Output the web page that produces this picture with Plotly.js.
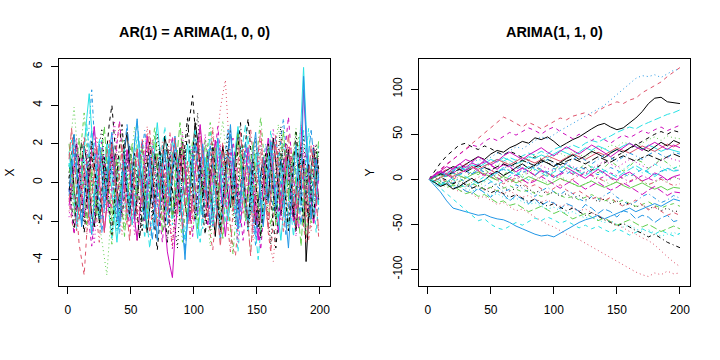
<!DOCTYPE html>
<html>
<head>
<meta charset="utf-8">
<script src="https://cdn.plot.ly/plotly-3.0.1.min.js"></script>
<style>html,body{margin:0;padding:0;background:#fff;}#chart{width:720px;height:360px;}</style>
</head>
<body>
<div id="chart"></div>
<script>
// ---------- DATA ----------
// Left panel: AR(1) series, sampled every 2 time steps (t = 1,3,...,199)
const L1 = [0.5,1.2,-0.3,-1.5,-0.8,0.4,1.9,1.1,-0.2,-1.7,-2.3,-1.1,0.6,1.4,0.2,-0.9,0.8,2.1,1.3,-0.4,-1.2,0.3,1.7,2.6,1.0,-0.6,-1.9,-0.7,0.9,0.1,-1.4,-2.6,-1.3,0.2,1.5,0.7,-0.5,1.1,2.4,1.6,
-0.1,-1.8,-0.9,0.5,1.8,0.4,-1.1,-2.0,-0.3,1.2,3.1,2.2,0.6,-0.8,0.3,1.6,-0.2,-1.6,-2.8,-1.0,
0.7,1.9,0.8,-0.6,-1.3,0.1,1.4,2.7,1.5,-0.1,-1.5,-0.4,0.9,-0.7,-2.2,-1.2,0.4,1.3,0.2,-1.0,
1.1,2.3,1.0,-0.5,-1.7,-0.8,0.6,1.7,0.3,-1.4,-2.5,-1.0,0.5,1.2,-4.1,-1.9,0.7,1.8,0.6,-0.9];
const L2 = [-0.8,-1.9,-2.6,-1.4,-3.2,-3.9,-4.8,-2.7,-0.9,0.6,1.8,0.9,-0.4,-1.6,-0.5,1.0,2.2,1.4,0.1,-1.2,-2.1,-0.8,0.7,1.5,0.4,-0.9,-1.8,-3.0,-1.6,0.2,1.3,2.5,1.1,-0.3,-1.5,-0.6,0.8,1.9,0.5,-1.0,
-2.4,-3.3,-1.7,-0.2,1.1,2.0,0.9,-0.5,-1.9,-0.7,0.6,1.6,2.8,1.2,-0.2,-1.4,-2.7,-3.5,-2.0,-0.4,
1.0,2.1,0.8,-0.7,-2.2,-3.4,-3.8,-2.1,-0.6,0.9,1.7,0.5,-1.1,-2.0,-0.8,0.4,1.6,0.6,-0.9,-2.6,
-3.6,-1.9,-0.3,1.2,2.3,1.0,-0.6,-1.8,-0.5,0.8,2.0,1.1,-0.4,-2.3,-3.1,-1.5,0.3,1.4,-0.7,-2.9];
const L3 = [1.4,2.6,3.9,2.2,0.8,-0.5,-1.6,-0.3,1.1,2.0,0.7,-0.9,-2.1,-3.0,-3.9,-4.8,-2.9,-1.2,0.4,1.5,
0.3,-1.0,-2.3,-1.1,0.5,1.7,2.9,1.6,0.2,-1.3,-0.4,0.9,2.1,1.0,-0.6,-1.9,-0.8,0.6,1.8,0.7,
-0.7,-2.0,-1.0,0.3,1.4,2.5,1.2,-0.1,-1.5,-2.6,-1.3,0.1,1.3,0.4,-0.8,-2.2,-3.3,-1.8,-0.2,1.0,
2.3,3.2,1.8,0.5,-0.9,-2.0,-0.9,0.4,1.6,0.6,-0.8,-2.4,-3.6,-2.1,-0.5,0.8,1.9,0.9,-0.3,-1.7,
-0.6,0.7,2.0,3.0,1.5,0.1,-1.2,-2.5,-1.4,0.0,1.2,2.4,1.1,-0.2,-1.6,-0.7,0.8,1.7,0.5,-1.1];
const L4 = [-0.4,0.9,1.8,0.6,-1.1,-2.0,-0.7,1.2,3.1,4.8,2.4,0.7,-0.8,-1.9,-0.6,0.8,1.9,0.9,-0.5,-1.6,
-2.7,-1.4,0.2,1.5,0.6,-0.8,-2.0,-1.0,0.4,1.6,2.7,1.3,-0.1,-1.4,-2.5,-1.2,0.1,1.0,-0.3,-1.7,
-0.7,0.8,2.1,1.0,-0.4,-1.8,-3.0,-1.7,-0.2,1.1,2.2,1.0,-0.3,-1.6,-0.5,0.9,2.0,0.8,-0.6,-1.9,
-1.0,0.4,1.7,2.8,1.4,0.0,-1.3,-2.4,-1.1,0.3,1.5,0.5,-0.9,-2.2,-3.3,-1.9,-0.4,0.9,2.0,1.1,
-0.2,-1.5,-0.4,1.0,2.2,3.3,1.7,0.3,-1.0,-2.1,-0.9,0.5,1.6,0.6,-0.8,-2.0,-1.0,0.4,1.3,0.2];
const L5 = [1.0,-0.2,-1.5,-2.4,-1.0,0.5,1.7,3.0,1.6,0.2,-1.1,-0.3,1.0,2.2,1.1,-0.4,-1.7,-2.9,-1.5,0.0,
1.3,0.4,-0.9,-2.0,-0.8,0.7,1.9,3.2,1.8,0.3,-1.0,-2.2,-3.4,-2.0,-0.6,0.8,1.8,0.6,-0.7,-1.6,
-0.4,1.1,2.3,1.2,-0.2,-1.4,-0.5,0.8,1.9,0.7,-0.6,-2.0,-3.1,-1.6,0.1,1.4,2.6,1.3,-0.1,-1.3,
-2.3,-1.0,0.5,1.6,0.6,-0.8,-1.9,-0.6,0.9,2.1,3.0,1.5,0.1,-1.2,-2.6,-4.0,-2.3,-0.7,0.6,1.7,
0.7,-0.6,-1.8,-0.7,0.8,2.0,1.0,-0.3,-1.7,-2.8,-1.4,0.2,1.5,2.7,1.2,-0.2,-1.5,-0.5,0.9,1.9];
const L6 = [-1.2,-0.3,0.9,2.0,0.8,-0.6,-1.8,-0.7,0.6,1.8,2.9,1.4,0.0,-1.3,-2.5,-1.2,0.3,1.5,0.5,-0.8,
-2.0,-0.9,0.6,1.7,0.7,-0.7,-1.9,-3.0,-1.6,-0.1,1.2,2.4,1.1,-0.3,-1.5,-0.4,0.9,-0.6,-2.2,-3.6,
-4.3,-4.93,-2.8,-1.0,0.5,1.6,0.6,-0.8,-2.0,-0.9,0.7,1.9,3.0,1.5,0.1,-1.2,-0.2,1.1,2.2,1.0,
-0.4,-1.7,-2.8,-1.4,0.1,1.3,0.3,-1.0,-2.1,-0.8,0.6,1.8,0.8,-0.6,-1.9,-3.0,-1.6,0.0,1.2,2.3,
1.0,-0.3,-1.5,-2.6,-1.2,0.2,1.4,0.5,-0.9,-2.0,-0.7,0.8,2.1,4.8,2.3,0.6,-0.9,-2.1,-0.8,0.4];
const L7 = [0.2,1.3,2.5,1.2,-0.2,-1.5,-2.6,-1.3,0.1,1.4,0.4,-0.9,-2.1,-1.0,0.5,1.8,3.1,4.0,2.2,0.6,
-0.7,-1.8,-0.6,0.8,1.9,0.9,-0.5,-1.7,-2.9,-1.5,0.0,1.2,0.2,-1.1,-2.3,-3.5,-2.0,-0.5,0.9,2.0,
1.0,-0.4,-1.6,-0.5,0.9,2.1,1.2,2.6,3.5,4.5,2.8,1.0,-0.4,-1.6,-2.7,-1.3,0.2,1.4,0.4,-1.0,
-2.2,-1.0,0.4,1.6,2.7,1.3,-0.1,-1.4,-0.3,1.0,2.2,3.3,1.8,0.2,-1.1,-2.3,-1.1,0.3,1.5,0.5,
-0.9,-2.2,-3.4,-1.9,-0.4,0.9,2.0,0.9,-0.5,-1.8,-0.7,0.7,1.8,0.6,-0.8,-2.0,-0.9,0.5,1.6,0.7];
const L8 = [-1.5,-0.6,0.7,1.9,0.8,-0.5,-1.7,-2.8,-1.4,0.1,1.3,2.4,1.1,-0.3,-1.6,-0.6,0.8,2.0,0.9,-0.4,
-1.6,-2.7,-1.3,0.2,1.5,0.5,-0.9,-2.1,-1.0,0.4,1.7,2.9,1.5,0.0,-1.3,-0.3,1.0,2.1,1.0,-0.5,
-1.8,-3.0,-1.6,-0.1,1.2,0.3,-1.0,-2.2,-1.1,0.3,1.6,0.6,-0.7,-1.9,-0.8,0.6,1.8,2.9,1.4,2.6,
3.8,4.6,5.3,3.0,1.2,-0.3,-1.6,-0.6,0.7,1.9,0.8,-0.6,-1.9,-3.0,-1.5,0.0,1.2,0.3,-1.0,-2.3,
-3.4,-4.1,-2.2,-0.6,0.8,1.9,0.8,-0.5,-1.8,-0.7,0.7,1.8,3.0,1.5,0.1,-1.3,-2.5,-1.2,0.2,1.4];
const L9 = [0.9,-0.4,-1.6,-0.5,0.9,2.1,3.6,2.0,0.5,-0.8,-2.0,-0.9,0.6,1.7,0.6,-0.8,-2.0,-3.2,-1.7,-0.2,
1.1,2.3,1.0,-0.4,-1.7,-0.6,0.8,1.9,0.8,-0.6,-1.9,-0.8,0.6,1.8,2.9,1.5,0.1,-1.2,-2.4,-1.1,
0.4,1.6,0.5,-0.8,-2.0,-3.1,-1.7,-0.2,1.0,2.2,1.0,-0.4,-1.5,-0.5,0.8,2.0,3.1,1.6,0.2,-1.1,
-0.1,1.2,0.2,-1.1,-2.4,-3.7,-2.1,-0.5,0.8,1.9,0.9,-0.5,-1.7,-0.6,0.7,1.9,3.4,1.8,0.3,-1.0,
-2.3,-1.0,0.5,1.6,0.6,-0.8,-2.1,-0.9,0.5,1.7,2.8,1.3,-0.2,-1.5,-2.7,-1.3,0.1,1.2,0.1,-1.3];
const L10 = [-0.7,0.6,1.7,0.5,-0.9,-2.2,-1.0,0.4,1.6,2.7,1.3,-0.1,-1.4,-2.6,-1.3,0.2,1.4,0.4,-0.9,-2.0,
-0.8,0.6,1.8,3.0,1.5,0.1,-1.2,-0.2,1.1,2.2,1.0,-0.5,-1.8,-3.0,-1.6,0.0,1.3,0.3,-1.0,-2.2,
-1.0,0.5,1.7,0.6,-0.7,-2.0,-3.6,-2.0,-0.4,0.9,2.0,0.9,-0.5,-1.8,-0.6,0.8,1.9,0.8,-0.6,-1.8,
-3.0,-1.5,0.0,1.3,2.5,1.1,-0.3,-1.6,-0.5,0.9,2.1,1.0,-0.4,-1.7,-2.8,-1.4,0.1,1.3,0.3,-1.1,
-0.1,1.2,2.4,1.1,-0.3,-1.6,-2.7,-1.3,0.2,1.5,0.5,-0.9,-2.2,-1.0,0.4,1.5,2.7,1.3,-0.1,-1.4];
const L11 = [1.6,0.4,-0.9,-2.1,-0.9,0.6,1.9,3.3,4.6,2.5,0.8,-0.6,-1.9,-0.7,0.8,2.0,0.9,-0.5,-1.8,-3.1,
-1.6,-0.1,1.2,0.2,-1.1,-2.2,-1.0,0.5,1.7,0.7,-0.7,-1.9,-0.7,0.7,2.0,3.1,1.6,0.1,-1.2,-0.2,
1.1,2.2,1.0,-0.4,-1.7,-0.6,0.8,2.0,0.9,-0.5,-1.8,-2.9,-1.5,0.0,1.3,0.3,-1.0,-2.3,-1.1,0.4,
1.6,0.6,-0.8,-2.0,-0.9,0.6,1.8,2.9,1.4,0.0,-1.3,-2.5,-1.2,0.3,1.5,0.5,-0.9,-2.1,-0.9,0.6,
1.8,0.7,-0.6,-1.9,-3.0,-1.6,-0.1,1.2,0.2,-1.1,-0.1,1.3,3.2,5.96,3.0,0.9,-0.6,-1.8,-0.7,0.6];
const L12 = [-0.3,-1.5,-2.7,-1.3,0.2,1.4,0.4,-1.0,-2.2,-3.3,-1.8,-0.3,1.0,2.1,1.0,-0.4,-1.6,-0.5,0.8,2.0,
3.2,1.7,0.2,-1.1,-2.3,-1.1,0.4,1.6,0.6,-0.8,-2.0,-0.8,0.7,1.8,0.7,-0.7,-2.0,-3.1,-1.6,0.0,
1.3,2.4,1.1,-0.3,-1.5,-0.5,0.9,-0.3,-1.6,-2.8,-1.4,0.1,1.3,0.3,-1.0,-2.3,-1.0,0.5,1.7,2.9,
1.4,0.0,-1.3,-0.3,1.1,2.3,1.0,-0.4,-1.7,-3.0,-1.6,-0.1,1.2,0.2,-1.1,-2.3,-3.5,-1.9,-0.3,1.0,
2.2,1.0,-0.4,-1.6,-0.5,0.9,2.0,3.4,1.7,0.2,-1.1,-2.4,-1.1,0.4,1.6,0.5,-0.9,-2.2,-1.0,0.3];
const L13 = [0.3,-0.9,0.6,2.0,1.1,-0.7,-2.1,-1.0,1.3,0.2,-1.6,0.5,1.9,2.8,0.9,-0.8,-0.1,1.5,-0.6,-2.4,
-1.3,0.8,2.2,0.4,-1.2,-0.3,1.0,-1.4,-2.9,-0.8,0.7,1.8,-0.4,-1.9,0.3,2.5,1.4,-0.2,-1.1,0.6,
1.7,-0.5,-2.3,-3.4,-1.1,0.9,1.6,0.1,-1.5,0.4,2.0,3.6,1.3,-0.6,0.8,-1.0,-2.5,-0.9,1.2,0.0,
-1.8,-0.7,1.1,2.6,0.5,-1.3,-2.2,0.2,1.9,1.0,-0.8,-2.6,-1.4,0.7,2.3,0.6,-1.0,0.9,-0.5,-2.0,
-3.2,-1.2,0.6,1.7,2.9,0.8,-1.1,-0.2,1.4,-0.9,-2.4,-0.6,1.5,2.4,0.3,-1.7,-0.4,1.1,2.0,0.2];
const L14 = [-1.0,0.4,-0.8,-2.5,-1.4,0.9,2.4,1.0,-0.3,1.6,0.5,-1.9,-3.1,-1.2,0.2,1.8,0.6,-1.4,-0.2,2.1,
3.0,1.2,-0.9,-2.2,-0.4,1.3,0.0,-1.7,0.8,2.3,0.9,-1.1,-2.7,-1.6,0.5,1.4,-0.6,-2.0,-0.3,1.2,
2.6,1.0,-0.5,-1.8,0.1,1.9,0.4,-1.3,-2.9,-1.0,0.8,2.2,1.1,-0.9,-2.0,-0.5,1.4,2.7,0.7,-1.2,
0.3,1.6,-0.4,-2.3,-3.6,-1.5,0.6,1.9,0.2,-1.6,-0.6,1.1,2.8,1.3,-0.7,-2.1,-0.8,0.9,-0.4,-1.9,
-0.6,1.3,2.5,0.8,-1.0,-2.6,-1.2,0.7,1.8,0.1,-1.4,0.6,2.1,0.9,-1.1,-3.0,-1.8,0.0,1.4,0.5];
const L15 = [2.0,0.8,-0.6,0.9,2.3,1.1,-0.8,-2.2,-0.9,0.7,-0.5,-1.8,0.3,1.7,2.9,1.0,-0.7,-2.0,-0.6,1.2,
0.1,-1.5,-2.8,-1.1,0.6,2.0,0.8,-0.9,0.4,1.9,-0.2,-1.6,-0.4,1.3,2.4,0.6,-1.3,-2.6,-0.9,0.8,
-0.3,-1.9,0.2,1.6,3.1,1.4,-0.4,-1.7,-0.5,1.0,-0.8,-2.4,-1.0,0.9,2.2,0.5,-1.1,0.3,1.8,-0.1,
-1.6,-2.9,-0.8,1.1,0.2,-1.3,0.7,2.5,1.2,-0.6,-2.0,-0.7,1.0,2.1,0.4,-1.4,-2.8,-1.0,0.6,1.9,
0.7,-0.9,-2.2,-0.4,1.4,2.7,0.9,-0.8,0.5,1.6,-0.3,-1.9,-3.3,-1.2,0.8,-0.6,-2.1,-0.5,1.0,2.2];
const L16 = [-0.5,1.1,2.5,0.9,-0.9,-2.3,-0.8,0.6,-1.2,-2.7,-1.0,0.8,2.0,0.5,-1.3,-0.1,1.6,2.6,0.7,-1.1,
-2.3,-0.6,1.0,-0.4,-1.8,0.3,2.1,3.3,1.2,-0.7,-1.9,-0.2,1.4,0.2,-1.5,-3.0,-1.4,0.5,1.7,0.4,
-1.2,0.9,2.4,1.0,-0.8,-2.5,-4.0,-1.8,0.1,1.3,-0.3,-1.7,0.4,2.0,0.8,-1.0,-2.2,-0.6,1.1,2.3,
0.6,-1.2,-0.2,1.5,3.0,1.1,-0.8,-2.4,-1.0,0.7,-0.6,-2.0,-0.3,1.6,2.6,0.8,-1.1,-2.3,-0.7,0.9,
2.1,0.5,-1.3,-0.1,1.2,-0.5,-2.1,-3.4,-1.3,0.6,1.9,0.3,-1.2,5.5,2.1,-0.4,-1.9,-0.5,1.2,0.1];
const L17 = [0.8,2.2,1.0,-0.7,-2.0,-0.5,1.3,0.1,-1.4,-2.6,-0.8,1.0,2.3,1.1,-0.6,0.7,2.0,0.4,-1.2,-2.5,
-1.0,0.6,1.7,-0.1,-1.6,-0.4,1.1,2.4,0.6,-1.3,-2.9,-1.2,0.5,1.9,0.7,-1.0,0.2,1.8,2.9,1.0,
-0.8,-2.2,-0.6,1.2,0.1,-1.5,-3.0,-1.4,0.4,1.6,2.8,0.9,-0.9,-2.4,-0.7,1.1,-0.3,-1.9,0.5,2.1,
1.0,-0.8,-2.1,-0.5,1.3,0.3,-1.4,-3.6,-1.9,0.0,1.5,2.4,0.6,-1.2,0.4,1.8,-0.2,-1.7,-0.4,1.4,
2.7,1.0,-0.9,-2.3,-0.6,0.9,-0.7,-2.2,-0.8,1.0,2.0,0.2,-1.6,-0.2,1.5,2.8,0.9,-1.0,-2.6,-0.9];
const L18 = [-1.8,-0.4,1.0,2.3,0.6,-1.1,0.4,1.7,-0.2,-2.0,-3.2,-1.4,0.3,1.5,-0.1,-1.6,0.2,2.1,3.2,1.4,
-0.4,-1.8,-0.3,1.3,0.1,-1.4,-2.7,-0.9,0.9,2.0,0.5,-1.2,0.6,2.2,1.0,-0.9,-2.3,-0.7,1.0,-0.5,
-2.0,-3.5,-1.6,0.2,1.5,2.6,0.9,-0.8,0.6,1.9,0.1,-1.7,-0.4,1.2,2.5,1.0,-0.7,-2.3,-1.0,0.7,
2.0,0.6,-1.0,0.3,1.7,-0.2,-1.9,-3.1,-1.3,0.5,1.8,0.4,-1.2,-2.6,-0.8,1.0,2.2,0.7,-1.0,-0.2,
1.3,2.8,1.1,-0.6,-2.0,-0.8,0.8,1.9,0.2,-1.5,-2.8,-1.0,0.7,1.7,0.0,-1.6,0.3,2.0,0.8,-0.9];
const L19 = [0.0,-1.3,-2.4,-0.7,1.0,2.1,0.5,-1.0,0.8,2.2,1.0,-0.6,-2.0,-0.4,1.3,0.2,-1.5,-2.7,-1.0,0.6,
1.9,3.0,1.2,-0.6,-1.7,0.1,1.5,0.3,-1.2,-2.5,-0.8,0.9,2.1,0.6,-1.0,0.5,1.8,-0.1,-1.8,-3.1,
-1.4,0.4,1.6,0.2,-1.3,0.6,2.2,3.4,1.4,-0.5,-1.9,-0.6,1.0,-0.4,-2.0,-0.9,0.8,2.0,0.5,-1.3,
-2.6,-1.1,0.7,1.8,0.4,-1.1,0.5,2.0,3.1,1.0,-0.9,-2.2,-0.5,1.2,0.0,-1.6,-2.9,-1.2,0.6,2.0,
0.9,-0.6,-1.9,-0.3,1.5,0.4,-1.2,-2.5,-0.7,1.1,2.6,1.0,-0.8,-2.1,-0.5,1.0,-0.4,-1.9,0.2,1.6];
const L20 = [1.2,2.8,1.3,-0.5,-1.9,-0.6,0.9,-0.4,-2.0,-0.8,0.7,1.9,0.3,-1.3,-2.6,-1.0,0.7,2.0,0.8,-0.9,
0.4,1.8,-0.1,-1.8,-3.0,-1.2,0.6,1.8,0.4,-1.2,0.2,1.6,2.7,0.9,-0.9,-2.3,-0.8,1.0,0.0,-1.5,
-0.3,1.3,2.3,0.7,-1.0,-2.4,-0.6,1.1,-0.2,-1.9,-0.7,1.0,2.4,1.2,-0.4,-1.8,0.0,1.6,-0.3,-2.0,
-3.3,-1.5,0.3,1.6,0.2,-1.5,-0.5,1.2,2.6,1.1,-0.5,-2.0,-3.8,-1.7,0.1,1.5,2.7,0.8,-1.2,-2.4,
-0.8,0.9,2.0,0.3,-1.4,-0.3,1.3,2.5,0.7,-1.0,-2.3,-0.7,0.9,-0.3,-1.8,0.3,1.9,0.6,-1.1,-2.5];

// Right panel: ARIMA(1,1,0) paths at these time points
const tRight = [1,5,10,15,20,25,30,35,40,45,50,55,60,65,70,75,80,85,90,95,100,105,110,115,120,125,130,135,140,145,150,155,160,165,170,175,180,185,190,195,200];
const R1 = [0,2,6,10,14,12,17,21,25,22,28,32,30,35,38,42,40,46,44,47,42,36,40,44,47,52,56,60,62,58,55,57,62,68,75,84,90,91,86,85,84];
const R2 = [0,4,10,16,22,28,34,40,46,52,58,63,69,66,62,58,63,60,56,60,64,68,66,70,72,74,70,76,80,83,86,84,88,90,96,100,104,108,114,119,124];
const R3 = [0,-2,3,7,4,9,14,11,8,13,17,15,20,18,14,19,24,27,23,20,26,29,25,31,28,24,30,35,33,38,36,41,39,35,40,44,47,43,48,46,45];
const R4 = [0,3,-2,-7,-4,1,-3,-9,-12,-7,-3,-8,-14,-11,-6,-10,-15,-19,-13,-9,-14,-17,-12,-16,-22,-25,-19,-23,-18,-14,-20,-24,-29,-25,-19,-16,-21,-26,-23,-18,-21];
const R5 = [0,2,5,3,8,11,9,14,17,15,19,22,20,24,21,26,29,27,31,28,33,36,34,38,35,40,43,41,45,48,52,55,58,56,60,63,66,69,72,74,77];
const R6 = [0,5,9,6,12,17,13,18,15,21,16,11,17,14,8,13,9,4,10,7,2,6,13,9,5,1,6,11,7,2,-1,5,8,3,-2,1,7,4,-1,3,5];
const R7 = [0,8,18,26,32,38,40,36,33,37,34,30,27,31,28,24,21,25,22,18,15,19,16,12,9,13,10,14,18,22,26,30,34,38,42,46,50,53,50,54,52];
const R8 = [0,-3,-7,-5,-10,-14,-12,-17,-21,-19,-24,-28,-26,-31,-35,-33,-38,-42,-46,-50,-53,-57,-61,-64,-67,-71,-75,-79,-83,-87,-91,-95,-99,-103,-106,-108,-104,-106,-102,-105,-104];
const R9 = [0,-4,1,6,2,-3,2,9,5,11,6,1,4,12,7,2,8,14,9,4,10,16,12,5,11,18,13,7,13,20,15,9,14,22,19,12,16,23,18,12,15];
const R10 = [0,-3,-7,-3,-10,-8,-13,-16,-10,-15,-20,-13,-17,-24,-18,-22,-27,-22,-29,-25,-26,-33,-27,-30,-36,-28,-32,-38,-33,-36,-42,-35,-37,-44,-40,-42,-48,-43,-40,-47,-45];
const R11 = [0,2,7,5,10,14,11,16,13,18,22,19,24,21,17,20,25,23,27,24,28,32,29,26,30,35,32,37,34,30,33,37,40,36,33,38,35,31,34,32,30];
const R12 = [0,5,11,17,22,28,33,38,36,42,46,43,48,52,49,53,57,54,50,55,58,53,49,45,50,47,43,48,44,40,45,49,46,50,54,51,55,58,54,57,60];
const R13 = [0,2,-2,-6,-3,-8,-5,-10,-7,-12,-9,-5,-9,-13,-10,-6,-11,-15,-12,-17,-14,-19,-16,-21,-18,-23,-20,-25,-22,-27,-24,-29,-26,-31,-28,-33,-30,-35,-32,-36,-35];
const R14 = [0,3,1,-3,0,4,1,-2,2,6,3,-1,-5,-2,2,-1,-4,0,3,7,4,1,-3,0,4,8,5,1,-2,1,-3,-6,-2,1,-2,-6,-3,0,-4,-7,-5];
const R15 = [0,-2,-5,-9,-7,-12,-16,-14,-19,-17,-22,-26,-24,-29,-27,-32,-36,-33,-30,-34,-38,-35,-40,-44,-41,-38,-42,-46,-43,-47,-51,-48,-45,-49,-53,-50,-54,-58,-55,-52,-55];
const R16 = [0,-6,-14,-24,-32,-34,-36,-38,-40,-39,-42,-44,-45,-48,-52,-55,-58,-61,-63,-62,-64,-60,-56,-52,-48,-45,-43,-40,-44,-41,-38,-35,-32,-36,-33,-30,-27,-30,-26,-22,-24];
const R17 = [0,-4,-10,-16,-22,-28,-34,-40,-46,-44,-50,-54,-56,-52,-48,-51,-47,-43,-46,-42,-45,-49,-46,-50,-54,-51,-55,-52,-56,-59,-55,-58,-62,-59,-55,-58,-61,-57,-60,-63,-60];
const R18 = [0,3,7,4,9,12,8,5,10,14,11,7,12,16,13,9,6,11,15,12,9,13,17,14,10,7,12,16,20,17,13,18,22,19,15,12,17,21,24,22,20];
const R19 = [0,-2,2,-1,-5,-2,-6,-10,-7,-11,-15,-12,-16,-20,-17,-21,-25,-22,-26,-30,-27,-31,-35,-32,-36,-40,-37,-41,-45,-48,-52,-49,-53,-57,-60,-64,-61,-66,-70,-73,-76];
const R20 = [0,2,-1,-4,-1,-5,-8,-5,-9,-12,-9,-13,-16,-13,-17,-20,-18,-22,-25,-23,-27,-30,-28,-32,-35,-33,-37,-40,-44,-47,-51,-54,-58,-61,-65,-68,-73,-80,-86,-92,-97];
const R21 = [0,2,5,3,7,4,1,5,8,6,2,-1,3,0,-4,-1,3,0,-3,-6,-3,1,-2,-5,-8,-5,-2,-6,-9,-6,-3,-7,-10,-7,-4,-8,-11,-8,-12,-9,-10];
const R22 = [0,-2,1,4,7,5,9,6,10,13,10,7,11,8,4,7,11,14,11,8,12,9,6,10,14,11,8,5,9,13,10,6,3,7,11,8,5,9,12,10,10];
const R23 = [0,2,5,9,12,10,14,18,22,20,25,29,27,32,36,34,38,43,47,45,50,54,58,62,66,70,74,78,82,88,94,100,106,112,115,114,116,113,117,121,122];
const R24 = [0,-3,-1,-5,-8,-6,-10,-13,-11,-15,-18,-16,-20,-23,-21,-25,-28,-26,-30,-33,-31,-35,-38,-36,-40,-43,-41,-45,-48,-46,-50,-53,-51,-55,-58,-56,-60,-63,-61,-59,-62];
const R25 = [0,3,6,10,7,11,15,12,16,19,15,12,16,13,9,12,8,5,9,6,2,5,9,6,3,7,4,0,3,7,4,1,-3,0,4,1,-2,2,-1,3,0];
const R26 = [0,-1,-4,-2,-6,-9,-7,-4,-8,-11,-9,-13,-10,-7,-11,-14,-12,-16,-19,-17,-14,-18,-21,-19,-23,-20,-17,-21,-24,-22,-26,-23,-27,-30,-28,-25,-29,-32,-29,-27,-30];
const R27 = [0,3,6,4,8,11,8,12,15,13,10,14,17,14,18,21,18,15,19,22,19,16,20,23,20,17,21,25,22,19,23,26,23,20,24,27,24,21,25,28,25];
const R28 = [0,-2,2,6,3,7,10,14,11,15,18,22,19,16,20,24,21,18,22,26,23,20,24,28,25,22,26,30,27,31,35,32,29,33,37,34,31,35,39,36,40];
const R29 = [0,-3,-7,-4,0,-5,-9,-6,-1,3,-2,-6,-2,4,8,3,-1,5,10,6,2,7,12,8,4,9,14,10,5,1,6,11,16,12,7,11,17,13,9,12,15];
const R30 = [0,4,8,5,1,6,10,14,9,4,7,2,-3,1,5,0,-5,-2,3,-1,-6,-10,-5,-1,-6,-11,-7,-3,-8,-12,-9,-4,-8,-13,-17,-12,-8,-13,-18,-14,-15];
const R31 = [0,-3,-8,-5,-11,-8,-3,1,-4,-1,5,9,4,8,13,17,12,16,21,18,14,19,23,27,22,26,31,28,24,29,33,30,35,39,34,31,36,41,37,43,40];
const R32 = [0,3,7,11,8,13,17,14,9,5,10,6,1,-4,0,-5,-9,-6,-11,-15,-10,-6,-12,-16,-13,-18,-22,-19,-24,-20,-26,-30,-27,-23,-29,-34,-31,-36,-40,-37,-40];
const R33 = [0,2,-2,-6,-2,3,0,-4,-8,-3,2,6,1,-3,1,5,9,4,0,-4,0,4,-1,-5,-9,-5,-1,3,-2,-6,-2,2,6,2,-2,-6,-3,1,-3,2,0];
const R34 = [0,3,7,4,9,13,10,6,11,8,3,7,12,16,11,15,19,14,18,22,17,13,18,22,26,21,17,22,27,24,20,25,29,26,22,27,31,27,24,30,28];
const R35 = [0,-2,-6,-3,2,6,3,-1,-5,-1,4,8,13,9,5,10,14,11,7,3,8,12,16,12,8,4,9,13,10,6,2,7,11,15,11,7,3,8,12,9,10];
const R36 = [0,4,9,14,11,17,22,19,25,21,16,20,26,30,26,22,27,31,35,30,26,31,36,32,28,33,38,34,29,25,30,35,40,36,32,37,41,37,33,38,35];

const xTicks = [0,50,100,150,200];
const yTicksLeft = [-4,-2,0,2,4,6];
const yTicksRight = [-100,-50,0,50,100];
const titles = ["AR(1) = ARIMA(1, 0, 0)", "ARIMA(1, 1, 0)"];
const yLabels = ["X", "Y"];

// ---------- STYLES ----------
const COLS = ["#000000","#DF536B","#61D04F","#2297E6","#28E2E5","#CD0BBC"];
const DASHES = ["solid","4px,4px","1px,3px","1px,3px,4px,3px","7px,3px"];
function sty(j){ return {color: COLS[(j-1)%6], dash: DASHES[(j-1)%5], width: 1}; }

const leftSeries = [L1,L2,L3,L4,L5,L6,L7,L8,L9,L10,L11,L12,L13,L14,L15,L16,L17,L18,L19,L20];
const leftJ = [1,2,3,4,5,6,7,8,9,10,11,12,13,14,15,16,17,18,19,20];
const rightSeries = [R1,R2,R3,R4,R5,R6,R7,R8,R9,R10,R11,R12,R13,R14,R15,R16,R17,R18,R19,R20,R21,R22,R23,R24,R25,R26,R27,R28,R29,R30,R31,R32,R33,R34,R35,R36];
const rightJ = [1,2,3,4,5,6,7,8,9,10,11,12,13,14,15,16,17,18,19,38,21,22,28,23,24,27,25,26,29,30,31,32,33,34,35,36];

const tLeft = [];
for (let i = 0; i < 100; i++) tLeft.push(1 + 2*i);

const traces = [];
leftSeries.forEach((s,k)=>{
  traces.push({x: tLeft.slice(0,s.length), y: s, type:'scatter', mode:'lines', line: sty(leftJ[k]), xaxis:'x', yaxis:'y', hoverinfo:'skip'});
});
rightSeries.forEach((s,k)=>{
  traces.push({x: tRight, y: s, type:'scatter', mode:'lines', line: sty(rightJ[k]), xaxis:'x2', yaxis:'y2', hoverinfo:'skip'});
});

const W = 720, H = 360;
const tickFont = {family:'"Liberation Sans", Arial, sans-serif', size:12, color:'#000'};
function axisBase(){
  return {showgrid:false, zeroline:false, showline:true, mirror:true, linecolor:'#000', linewidth:1,
    ticks:'outside', ticklen:7, tickwidth:1, tickcolor:'#000', tickfont:tickFont, tickmode:'array'};
}
const dLeft = [59/W, 330/W], dRight = [419/W, 690/W], dY = [1-286/H, 1-59/H];

const layout = {
  width: W, height: H, margin:{l:0,r:0,t:0,b:0}, showlegend:false,
  paper_bgcolor:'#fff', plot_bgcolor:'#fff',
  xaxis: Object.assign(axisBase(), {domain:dLeft, range:[-6.96,207.96], tickvals:xTicks, ticktext:xTicks.map(String), anchor:'y', ticklabelstandoff:6}),
  yaxis: Object.assign(axisBase(), {domain:dY, range:[-5.366,6.396], tickvals:yTicksLeft, ticktext:yTicksLeft.map(String), anchor:'x', tickangle:-90, ticklabelstandoff:4}),
  xaxis2: Object.assign(axisBase(), {domain:dRight, range:[-6.96,207.96], tickvals:xTicks, ticktext:xTicks.map(String), anchor:'y2', ticklabelstandoff:6}),
  yaxis2: Object.assign(axisBase(), {domain:dY, range:[-118.5,133.5], tickvals:yTicksRight, ticktext:yTicksRight.map(String), anchor:'x2', tickangle:-90, ticklabelstandoff:4}),
  annotations: [
    {text:'<b>'+titles[0]+'</b>', xref:'paper', yref:'paper', x:(dLeft[0]+dLeft[1])/2, y:1-32/H, xanchor:'center', yanchor:'middle', showarrow:false, font:{family:'"Liberation Sans", Arial, sans-serif', size:14.4, color:'#000'}},
    {text:'<b>'+titles[1]+'</b>', xref:'paper', yref:'paper', x:(dRight[0]+dRight[1])/2, y:1-32/H, xanchor:'center', yanchor:'middle', showarrow:false, font:{family:'"Liberation Sans", Arial, sans-serif', size:14.4, color:'#000'}},
    {text:yLabels[0], xref:'paper', yref:'paper', x:9/W, y:(dY[0]+dY[1])/2, xanchor:'center', yanchor:'middle', textangle:-90, showarrow:false, font:tickFont},
    {text:yLabels[1], xref:'paper', yref:'paper', x:369/W, y:(dY[0]+dY[1])/2, xanchor:'center', yanchor:'middle', textangle:-90, showarrow:false, font:tickFont}
  ]
};

Plotly.newPlot('chart', traces, layout, {staticPlot:true, displayModeBar:false});
</script>
</body>
</html>
